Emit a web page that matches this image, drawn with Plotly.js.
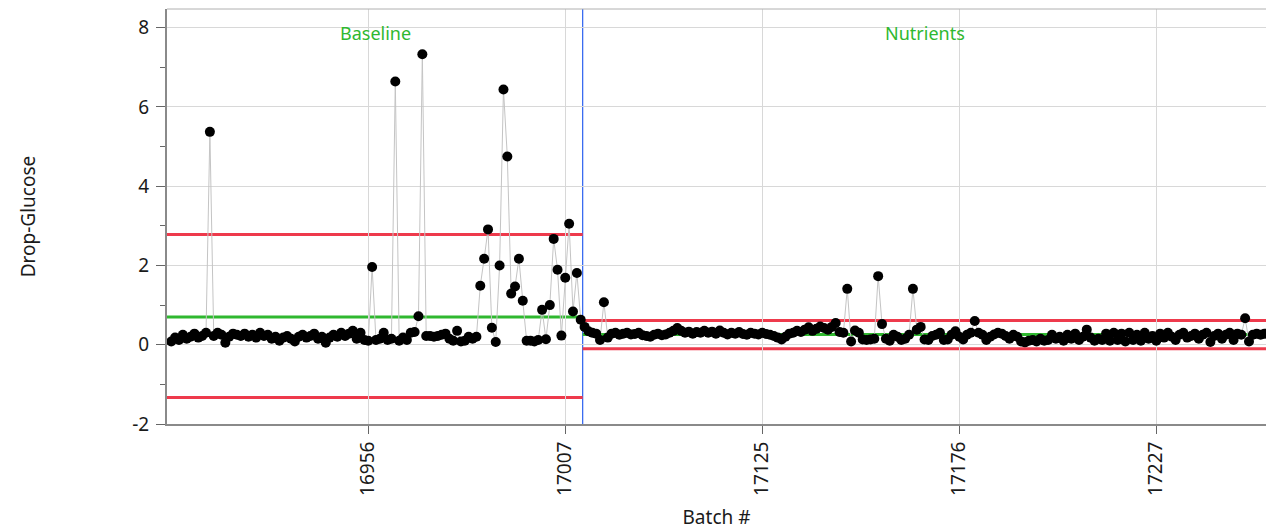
<!DOCTYPE html>
<html>
<head>
<meta charset="utf-8">
<script src="https://cdn.plot.ly/plotly-3.0.1.min.js"></script>
<style>html,body{margin:0;padding:0;background:#fff;}#chart{width:1266px;height:532px;}</style>
</head>
<body>
<div id="chart"></div>
<script>
// ---- data ----
const phaseNames = ["Baseline", "Nutrients"];
const baselineStartBatch = 16905;
const nutrientsStartBatch = 17079;
const baselineValues = [
0.08,0.18,0.12,0.25,0.15,0.2,0.28,0.18,0.22,0.3,
5.37,0.22,0.3,0.25,0.05,0.2,0.28,0.25,0.22,0.28,
0.2,0.25,0.18,0.3,0.22,0.25,0.15,0.2,0.1,0.18,
0.22,0.15,0.08,0.2,0.25,0.18,0.22,0.28,0.15,0.2,
0.05,0.18,0.25,0.2,0.3,0.22,0.28,0.35,0.15,0.3,
0.12,0.1,1.96,0.12,0.15,0.3,0.12,0.15,6.64,0.1,
0.18,0.12,0.3,0.32,0.72,7.33,0.22,0.22,0.2,0.22,
0.25,0.28,0.15,0.1,0.35,0.08,0.1,0.2,0.15,0.2,
1.49,2.17,2.91,0.43,0.07,2.0,6.44,4.75,1.29,1.47,
2.17,1.11,0.1,0.1,0.08,0.12,0.88,0.14,1.0,2.67,
1.89,0.23,1.69,3.05,0.84,1.81,0.63
];
const nutrientsValues = [
0.45,0.34,0.3,0.28,0.12,1.07,0.18,0.28,0.3,0.25,
0.28,0.3,0.26,0.27,0.3,0.24,0.22,0.2,0.25,0.28,
0.24,0.26,0.3,0.35,0.42,0.35,0.3,0.33,0.28,0.32,
0.3,0.35,0.3,0.33,0.28,0.36,0.3,0.26,0.3,0.28,
0.32,0.27,0.25,0.3,0.28,0.26,0.3,0.27,0.25,0.22,
0.18,0.13,0.2,0.28,0.3,0.35,0.32,0.38,0.44,0.35,
0.4,0.46,0.42,0.38,0.45,0.55,0.32,0.3,1.41,0.08,
0.36,0.3,0.13,0.12,0.13,0.15,1.73,0.52,0.15,0.1,
0.25,0.2,0.12,0.15,0.25,1.41,0.38,0.45,0.13,0.12,
0.22,0.25,0.3,0.12,0.13,0.25,0.34,0.2,0.13,0.25,
0.3,0.6,0.3,0.25,0.12,0.2,0.26,0.3,0.28,0.22,
0.15,0.25,0.2,0.08,0.06,0.1,0.12,0.08,0.15,0.1,
0.12,0.25,0.15,0.2,0.1,0.25,0.15,0.28,0.12,0.2,
0.38,0.18,0.1,0.15,0.12,0.28,0.1,0.3,0.12,0.28,
0.08,0.3,0.12,0.25,0.1,0.3,0.15,0.22,0.1,0.28,
0.18,0.3,0.2,0.12,0.25,0.3,0.18,0.22,0.28,0.15,
0.25,0.3,0.07,0.22,0.28,0.15,0.25,0.3,0.12,0.28,
0.25,0.67,0.08,0.25,0.28,0.25,0.28
];
// control limits per phase: [UCL, CL, LCL]
const baselineLimits = [2.78, 0.70, -1.33];
const nutrientsLimits = [0.61, 0.26, -0.10];
const xTickLabels = ["16956", "17007", "17125", "17176", "17227"];
const yTickVals = [-2, 0, 2, 4, 6, 8];
const yTickText = ["-2", "0", "2", "4", "6", "8"];

// ---- build ----
const batches = [];
baselineValues.forEach((v, i) => batches.push(String(baselineStartBatch + i)));
nutrientsValues.forEach((v, i) => batches.push(String(nutrientsStartBatch + i)));
const allValues = baselineValues.concat(nutrientsValues);

const nB = baselineValues.length;
const nAll = allValues.length;
const xRange = [-1.1, nAll - 0.6];
const boundary = nB - 0.5;

const red = "#ee3a4c", green = "#2fb82f", blue = "#3b6cf0";
function hline(x0, x1, y, color) {
  return {type: "line", xref: "x", yref: "y", x0: x0, x1: x1, y0: y, y1: y,
          line: {color: color, width: 3}, layer: "below"};
}
const shapes = [
  hline(xRange[0], boundary, baselineLimits[0], red),
  hline(xRange[0], boundary, baselineLimits[1], green),
  hline(xRange[0], boundary, baselineLimits[2], red),
  hline(boundary, xRange[1], nutrientsLimits[0], red),
  hline(boundary, xRange[1], nutrientsLimits[1], green),
  hline(boundary, xRange[1], nutrientsLimits[2], red),
  {type: "line", xref: "x", yref: "paper", x0: boundary, x1: boundary, y0: 0, y1: 1,
   line: {color: blue, width: 1.3}, layer: "between"},
  {type: "line", xref: "paper", yref: "paper", x0: 0, x1: 1, y0: 1, y1: 1,
   line: {color: "#b0b0b0", width: 1}, layer: "above"}
];

const font = "'Noto Sans', 'Open Sans', sans-serif";
const trace = {
  type: "scatter", mode: "lines+markers",
  x: batches, y: allValues,
  line: {color: "#c4c4c4", width: 1},
  marker: {color: "#000", size: 10},
  hoverinfo: "x+y"
};

const layout = {
  width: 1266, height: 532,
  margin: {l: 167, r: 0, t: 9, b: 108},
  paper_bgcolor: "#fff", plot_bgcolor: "#fff",
  showlegend: false,
  font: {family: font, color: "#1a1a1a", size: 19},
  xaxis: {
    type: "category", range: xRange,
    tickmode: "array", tickvals: xTickLabels, ticktext: xTickLabels,
    tickangle: -90, ticks: "outside", ticklen: 8, tickcolor: "#666", tickwidth: 1,
    showgrid: true, gridcolor: "#d8d8d8", gridwidth: 1,
    showline: true, linecolor: "#8a8a8a", linewidth: 2, mirror: false,
    zeroline: false,
    tickfont: {family: font, size: 19, color: "#1a1a1a"},
    title: {text: "Batch #", font: {family: font, size: 19, color: "#1a1a1a"}, standoff: 16},
    automargin: true
  },
  yaxis: {
    range: [-2, 8.47],
    tickmode: "array", tickvals: yTickVals, ticktext: yTickText,
    ticks: "outside", ticklen: 9, tickcolor: "#666", tickwidth: 1,
    ticklabelstandoff: 3,
    minor: {dtick: 1, tick0: 0, ticks: "outside", ticklen: 5, tickcolor: "#666", showgrid: false},
    showgrid: true, gridcolor: "#d8d8d8", gridwidth: 1,
    showline: true, linecolor: "#8a8a8a", linewidth: 2,
    zeroline: false,
    tickfont: {family: font, size: 19, color: "#1a1a1a"},
    title: {text: "Drop-Glucose", font: {family: font, size: 19, color: "#1a1a1a"}, standoff: 92},
    automargin: true
  },
  shapes: shapes,
  annotations: [
    {text: phaseNames[0], x: (nB - 1) / 2, xref: "x", y: 0.942, yref: "paper", yanchor: "middle",
     showarrow: false, font: {family: font, size: 18, color: green}},
    {text: phaseNames[1], x: nB + (nutrientsValues.length - 1) / 2, xref: "x", y: 0.942, yref: "paper", yanchor: "middle",
     showarrow: false, font: {family: font, size: 18, color: green}}
  ]
};

Plotly.newPlot("chart", [trace], layout, {displayModeBar: false, staticPlot: true});
</script>
</body>
</html>
